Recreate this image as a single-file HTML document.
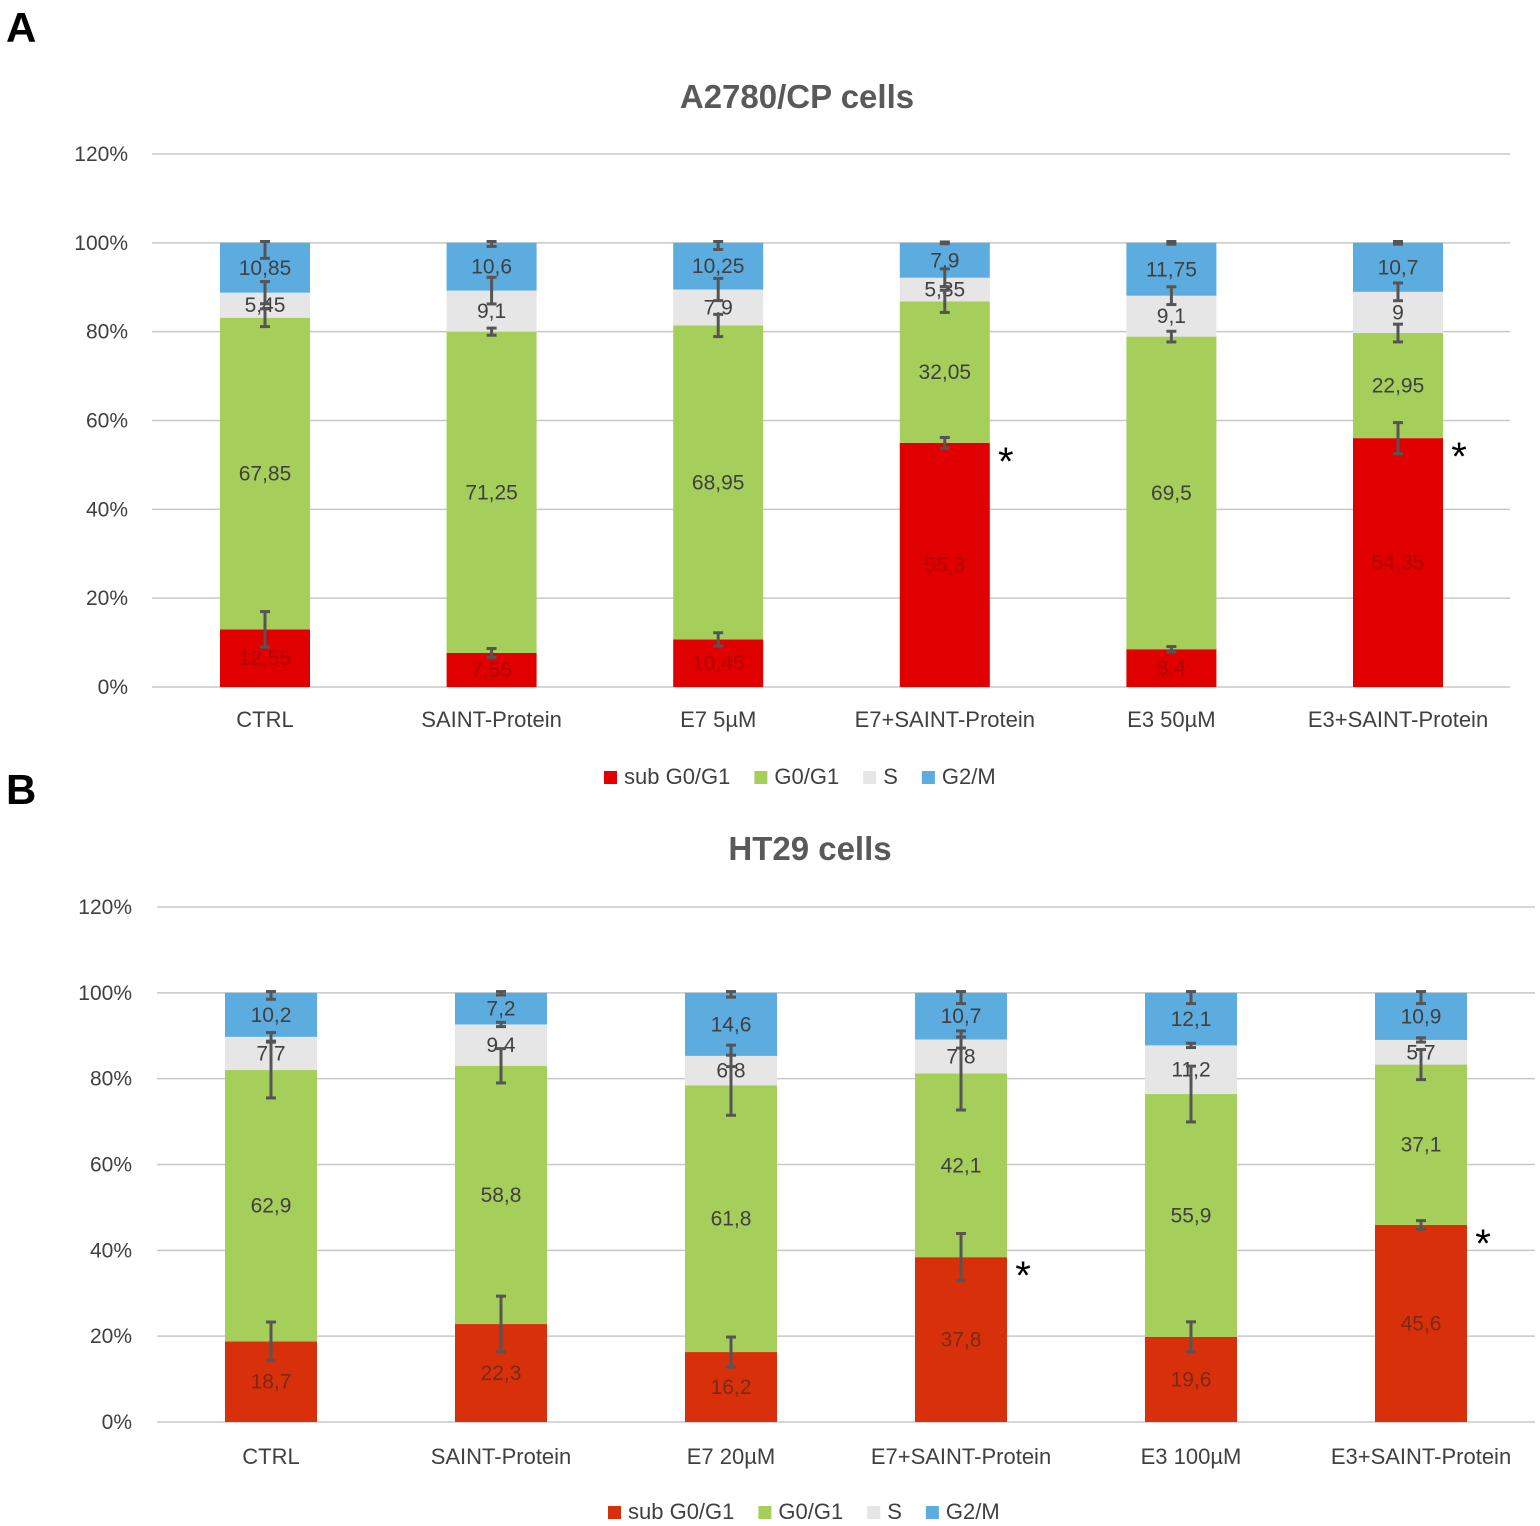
<!DOCTYPE html>
<html><head><meta charset="utf-8"><style>
body{margin:0;background:#fff;width:1540px;height:1526px;overflow:hidden;font-family:"Liberation Sans",sans-serif}
svg{position:absolute;left:0;top:0}
</style></head><body>
<svg id="svg" width="1540" height="1526">
<text x="6" y="42" font-size="42" font-weight="bold" fill="#000">A</text>
<text x="6" y="804" font-size="42" font-weight="bold" fill="#000">B</text>
</svg>
<script>
const categoriesA=["CTRL","SAINT-Protein","E7 5µM","E7+SAINT-Protein","E3 50µM","E3+SAINT-Protein"];
const subA=[12.55,7.55,10.45,55.3,8.4,54.35];
const g01A=[67.85,71.25,68.95,32.05,69.5,22.95];
const sA=[5.45,9.1,7.9,5.35,9.1,9];
const g2mA=[10.85,10.6,10.25,7.9,11.75,10.7];
const errSubA=[4,1,1.5,1.2,0.6,3.5];
const errG01A=[2,0.8,2.5,2.5,1.2,2];
const errSA=[2.5,3,2.5,2,2,2];
const errG2mA=[3.5,0.8,1.5,0.2,0.3,0.3];
const starA=[false,false,false,true,false,true];
const categoriesB=["CTRL","SAINT-Protein","E7 20µM","E7+SAINT-Protein","E3 100µM","E3+SAINT-Protein"];
const subB=[18.7,22.3,16.2,37.8,19.6,45.6];
const g01B=[62.9,58.8,61.8,42.1,55.9,37.1];
const sB=[7.7,9.4,6.8,7.8,11.2,5.7];
const g2mB=[10.2,7.2,14.6,10.7,12.1,10.9];
const errSubB=[4.5,6.5,3.5,5.5,3.5,1];
const errG01B=[6.5,4,7,8.5,6.5,3.5];
const errSB=[1,0.5,2.5,2,0.5,0.5];
const errG2mB=[1.5,0.5,1,2.5,2.5,2.5];
const starB=[false,false,false,true,false,true];
const tickLabels=["0%","20%","40%","60%","80%","100%","120%"];
const seriesNames=["sub G0/G1","G0/G1","S","G2/M"];

const NS="http://www.w3.org/2000/svg";
const svg=document.getElementById('svg');
function mk(tag,attrs,parent){const e=document.createElementNS(NS,tag);for(const k in attrs)e.setAttribute(k,attrs[k]);(parent||svg).appendChild(e);return e;}

function chart(o){
  const g=mk('g',{});
  
  
  const y=v=>o.y0-(v/120)*(o.y0-o.y120);
  const x=i=>o.x0+o.step*i;
  const t=mk('text',{x:o.tx,y:o.ty,'font-size':33,'font-weight':'bold',fill:'#595959','text-anchor':'middle'},g);
  t.textContent=o.title;
  
  
  tickLabels.forEach((lab,k)=>{
    const v=k*20;
    const l=mk('line',{x1:o.gx1,x2:o.gx2,y1:y(v),y2:y(v),stroke:'#c8c8c8','stroke-width':1.5},g);
    
    
    const tt=mk('text',{x:o.lx,y:y(v)+7,'font-size':21,fill:'#404040','text-anchor':'end'},g);
    tt.textContent=lab;
    
    
  });
  const cols=[o.red,'#a5cf5a','#e6e6e6','#5cacdf'];
  const labCols=[o.redLab,'#404040','#404040','#404040'];
  const names=['bar-sub-g0g1','bar-g0g1','bar-s','bar-g2m'];
  o.cats.forEach((c,i)=>{
    const vals=o.series.map(s=>s[i]);
    const sum=vals.reduce((a,b)=>a+b,0);
    let cum=0;
    const tops=[];
    vals.forEach((v,k)=>{
      const p=v/sum*100;
      const yt=y(cum+p),yb=y(cum);
      const r=mk('rect',{x:x(i)-o.bw/2,y:yt,width:o.bw,height:yb-yt,fill:cols[k]},g);
      
      
      const tx=mk('text',{x:x(i),y:(yt+yb)/2+7,'font-size':21,fill:labCols[k],'text-anchor':'middle'},g);
      tx.textContent=String(v).replace('.',',');
      
      
      cum+=p;tops.push(cum);
    });
    o.errs.forEach((e,k)=>{
      const ev=e[i],yc=tops[k];
      const a=y(Math.min(yc+ev,100.3)),b=y(yc-ev);
      const eg=mk('g',{stroke:'#555','stroke-width':3},g);
      
      
      mk('line',{x1:x(i),x2:x(i),y1:a,y2:b},eg);
      mk('line',{x1:x(i)-5,x2:x(i)+5,y1:a,y2:a},eg);
      mk('line',{x1:x(i)-5,x2:x(i)+5,y1:b,y2:b},eg);
    });
    if(o.stars[i]){
      const st=mk('text',{x:x(i)+o.bw/2+16,y:y(tops[0])+32,'font-size':40,fill:'#000','text-anchor':'middle'},g);
      st.textContent='*';
      
      
    }
    const cl=mk('text',{x:x(i),y:o.catY,'font-size':22,fill:'#404040','text-anchor':'middle'},g);
    cl.textContent=c;
    
    
  });
  let lx=o.legX;
  seriesNames.forEach((n,k)=>{
    const r=mk('rect',{x:lx,y:o.legY-13,width:13,height:13,fill:cols[k]},g);
    
    
    const tx=mk('text',{x:lx+20,y:o.legY,'font-size':22,fill:'#404040'},g);
    tx.textContent=n;
    
    
    lx+=20+tx.getComputedTextLength()+24;
  });
}
chart({name:'chart-a',title:'A2780/CP cells',tx:797,ty:108,y0:687,y120:154,gx1:152,gx2:1510,lx:128,x0:265,step:226.6,bw:90,
  cats:categoriesA,series:[subA,g01A,sA,g2mA],errs:[errSubA,errG01A,errSA,errG2mA],stars:starA,
  red:'#e00000',redLab:'#b00000',catY:727,legX:604,legY:784});
chart({name:'chart-b',title:'HT29 cells',tx:810,ty:860,y0:1422,y120:907,gx1:157,gx2:1535,lx:132,x0:271,step:230,bw:92,
  cats:categoriesB,series:[subB,g01B,sB,g2mB],errs:[errSubB,errG01B,errSB,errG2mB],stars:starB,
  red:'#d9300c',redLab:'#7a2a10',catY:1464,legX:608,legY:1519});
</script>
</body></html>
